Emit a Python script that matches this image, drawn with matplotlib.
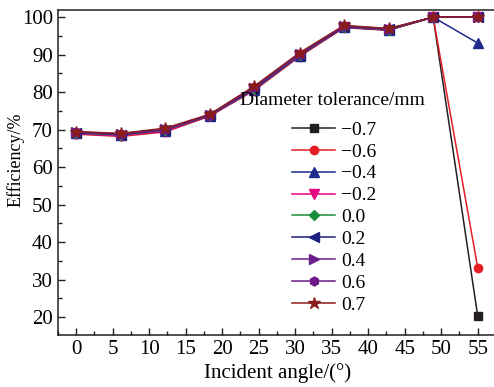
import matplotlib.pyplot as plt
from matplotlib.ticker import MultipleLocator

plt.rcParams['font.family'] = ['Liberation Serif', 'DejaVu Serif']
plt.rcParams['mathtext.fontset'] = 'stix'

angle = [0, 6.1, 12.2, 18.3, 24.4, 30.6, 36.7, 42.8, 48.9, 55]

tol_labels = ['\u22120.7', '\u22120.6', '\u22120.4', '\u22120.2', '0.0', '0.2', '0.4', '0.6', '0.7']

eff_m07 = [69.2, 68.7, 69.8, 73.8, 80.8, 89.8, 97.3, 96.6, 100, 20.3]
eff_m06 = [68.8, 68.2, 69.4, 73.6, 80.5, 89.5, 97.2, 96.5, 100, 33.2]
eff_m04 = [69.0, 68.5, 69.7, 73.7, 80.6, 89.7, 97.3, 96.6, 100, 93.1]
eff_m02 = [68.9, 68.4, 69.6, 73.7, 80.7, 89.8, 97.4, 96.7, 100, 100]
eff_p00 = [69.1, 68.6, 69.9, 73.8, 80.9, 89.9, 97.5, 96.7, 100, 100]
eff_p02 = [69.2, 68.7, 70.0, 73.9, 81.0, 90.0, 97.5, 96.8, 100, 100]
eff_p04 = [69.3, 68.8, 70.1, 73.9, 81.2, 90.1, 97.6, 96.8, 100, 100]
eff_p06 = [69.4, 68.9, 70.2, 74.0, 81.4, 90.3, 97.7, 96.9, 100, 100]
eff_p07 = [69.5, 69.0, 70.4, 74.1, 81.6, 90.5, 97.8, 97.0, 100, 100]

series = [eff_m07, eff_m06, eff_m04, eff_m02, eff_p00, eff_p02, eff_p04, eff_p06, eff_p07]
colors = ['#231f20', '#e31e24', '#1f2a8c', '#e5007f', '#1a8c3c', '#1b1f7d', '#6b1f8e', '#6b1a87', '#8a1c1c']
markers = ['s', 'o', '^', 'v', 'D', '<', '>', 'h', '*']
msizes = [5.5, 6, 6.5, 6.5, 5.5, 6.5, 6.5, 6.5, 9]

fig = plt.figure(figsize=(4.94, 3.87), dpi=100)
ax = fig.add_axes([0.117, 0.134, 0.887, 0.840])

for vals, lab, c, m, ms in zip(series, tol_labels, colors, markers, msizes):
    ax.plot(angle, vals, color=c, marker=m, markersize=ms, linewidth=1.1, label=lab)

ax.set_xlim(-2.5, 57.5)
ax.set_ylim(15.2, 101.9)
ax.xaxis.set_major_locator(MultipleLocator(5))
ax.xaxis.set_minor_locator(MultipleLocator(2.5))
ax.yaxis.set_major_locator(MultipleLocator(10))
ax.yaxis.set_minor_locator(MultipleLocator(5))
ax.tick_params(which='both', direction='in', labelsize=15, color='#231f20')
ax.tick_params(which='major', length=5, width=1)
ax.tick_params(which='minor', length=3, width=1)
for s in ax.spines.values():
    s.set_linewidth(1.1)
    s.set_color('#231f20')

ax.set_xlabel('Incident angle/(\u00b0)', fontsize=15)
ax.set_ylabel('Efficiency/%', fontsize=13)
ax.xaxis.set_label_coords(0.502, -0.086)
ax.yaxis.set_label_coords(-0.076, 0.538)

# legend title drawn separately so the gap above the entries matches
ax.text(0.626, 0.723, 'Diameter tolerance/mm', transform=ax.transAxes,
        ha='center', va='center', fontsize=14)
leg = ax.legend(frameon=False, fontsize=14, loc='center left',
                bbox_to_anchor=(0.5045, 0.362),
                handlelength=2.2, labelspacing=0.22, borderpad=0.2, handletextpad=0.3)

fig.savefig('out.png', dpi=100)
